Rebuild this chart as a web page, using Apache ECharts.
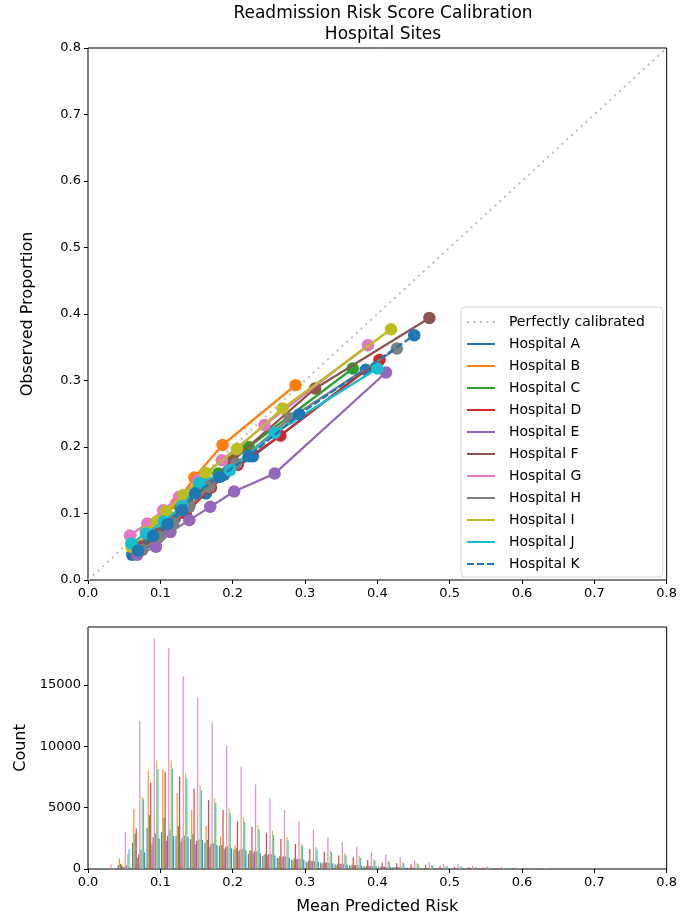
<!DOCTYPE html>
<html><head><meta charset="utf-8">
<script src="https://cdn.jsdelivr.net/npm/echarts@6/dist/echarts.min.js"></script>
<style>html,body{margin:0;padding:0;background:#fff}#c{width:680px;height:919px}</style>
</head><body><div id="c"></div><script>
// ---------- DATA ----------
const hospitals = ['Hospital A','Hospital B','Hospital C','Hospital D','Hospital E','Hospital F','Hospital G','Hospital H','Hospital I','Hospital J','Hospital K'];
const colors = ['#1f77b4','#ff7f0e','#2ca02c','#d62728','#9467bd','#8c564b','#e377c2','#7f7f7f','#bcbd22','#17becf','#1f77b4'];

// calibration points [mean predicted, observed]
const calA = [[0.061,0.038],[0.082,0.057],[0.101,0.074],[0.120,0.093],[0.140,0.112],[0.163,0.130],[0.188,0.158],[0.228,0.186],[0.384,0.316]];
const calB = [[0.065,0.050],[0.085,0.072],[0.102,0.090],[0.122,0.115],[0.147,0.154],[0.186,0.203],[0.287,0.293]];
const calC = [[0.065,0.045],[0.088,0.065],[0.108,0.085],[0.128,0.108],[0.152,0.135],[0.180,0.160],[0.222,0.200],[0.366,0.318]];
const calD = [[0.066,0.042],[0.090,0.060],[0.112,0.078],[0.135,0.100],[0.170,0.139],[0.207,0.173],[0.266,0.217],[0.403,0.331]];
const calE = [[0.068,0.038],[0.094,0.050],[0.114,0.072],[0.140,0.090],[0.169,0.110],[0.202,0.133],[0.258,0.160],[0.412,0.312]];
const calF = [[0.072,0.050],[0.095,0.070],[0.115,0.090],[0.138,0.115],[0.165,0.145],[0.200,0.180],[0.314,0.288],[0.472,0.394]];
const calG = [[0.058,0.067],[0.082,0.085],[0.104,0.105],[0.126,0.125],[0.152,0.150],[0.185,0.180],[0.244,0.233],[0.387,0.353]];
const calH = [[0.075,0.045],[0.098,0.065],[0.118,0.085],[0.140,0.110],[0.168,0.140],[0.205,0.175],[0.279,0.243],[0.427,0.348]];
const calI = [[0.060,0.050],[0.080,0.072],[0.095,0.088],[0.108,0.103],[0.132,0.128],[0.163,0.161],[0.206,0.197],[0.269,0.258],[0.419,0.377]];
const calJ = [[0.060,0.055],[0.080,0.070],[0.105,0.088],[0.130,0.111],[0.154,0.146],[0.196,0.165],[0.258,0.221],[0.400,0.318]];
const calK = [[0.069,0.044],[0.090,0.066],[0.110,0.084],[0.130,0.105],[0.148,0.130],[0.182,0.155],[0.222,0.186],[0.292,0.249],[0.451,0.368]];
const diagonal = [[0,0],[0.8,0.8]];

// histogram bin centres and counts per hospital
const bins = [0.01,0.03,0.05,0.07,0.09,0.11,0.13,0.15,0.17,0.19,0.21,0.23,0.25,0.27,0.29,0.31,0.33,0.35,0.37,0.39,0.41,0.43,0.45,0.47,0.49,0.51,0.53,0.55,0.57,0.59,0.61,0.63,0.65,0.67,0.69];
const countsA = [20,80,330,2150,3370,3000,2690,2420,2150,1870,1600,1250,1080,900,750,620,500,390,310,240,190,145,110,80,60,45,32,22,15,10,7,4,2,1,0];
const countsB = [0,60,870,4890,8040,8150,6170,4810,3500,2690,1960,1500,1150,900,690,520,400,300,230,170,130,100,75,55,40,30,20,15,10,6,4,2,1,0,0];
const countsC = [10,90,420,2900,4400,4200,3500,2850,2360,1960,1690,1500,1250,1050,860,700,560,440,350,270,210,160,120,90,65,48,35,25,17,11,7,4,2,1,0];
const countsD = [0,30,350,3300,7060,7930,7520,6570,5620,4810,3910,3450,2950,2450,2040,1630,1410,1110,950,730,540,470,380,330,240,200,160,120,90,70,50,35,25,15,8];
const countsE = [0,40,200,900,2000,2300,2200,2000,1800,1600,1450,1300,1120,960,800,660,530,420,340,270,210,165,125,95,70,52,38,27,19,13,8,5,3,1,0];
const countsF = [0,30,150,1200,2600,2700,2500,2300,2050,1800,1600,1450,1230,1030,840,680,540,420,330,255,195,150,110,82,60,44,32,22,15,10,6,4,2,1,0];
const countsG = [0,380,3000,12100,18800,18000,15700,14000,11950,10080,8370,6900,5750,4810,3910,3200,2580,2230,1820,1390,1210,950,730,560,420,400,250,230,180,150,110,80,60,40,25];
const countsH = [0,50,300,1550,2900,3200,2700,2400,2100,1850,1650,1450,1220,1010,820,660,520,400,310,240,185,140,105,78,57,42,30,21,14,9,6,4,2,1,0];
const countsI = [0,60,1220,5920,8850,8860,7800,6850,5760,4940,4260,3600,3120,2630,2090,1790,1520,1280,1060,790,710,540,460,330,270,220,170,130,100,80,60,45,30,20,10];
const countsJ = [0,50,1630,5700,8150,8180,7390,6440,5400,4540,3860,3230,2770,2350,1900,1600,1350,1120,920,700,600,470,390,290,230,180,140,110,85,65,50,35,25,15,8];
const countsK = [0,40,150,1360,2470,2700,2600,2360,1960,1690,1500,1300,1100,920,750,600,470,360,280,215,165,125,95,70,50,37,27,19,13,8,5,3,2,1,0];

const countTicks = [0,5000,10000,15000];

// ---------- CHART ----------
const cal = [calA,calB,calC,calD,calE,calF,calG,calH,calI,calJ,calK];
const counts = [countsA,countsB,countsC,countsD,countsE,countsF,countsG,countsH,countsI,countsJ,countsK];
const FONT = 'DejaVu Sans';
const chart = echarts.init(document.getElementById('c'), null, {renderer:'canvas'});

function valAxis(grid, opts) {
  return Object.assign({
    gridIndex: grid, type: 'value',
    axisLine: {show: false},
    axisTick: {show: true, inside: false, length: 4, lineStyle: {color: '#000', width: 1}},
    splitLine: {show: false},
    nameTextStyle: {color: '#000', fontSize: 16, fontFamily: FONT}
  }, opts);
}
const lbl = (extra) => Object.assign({color: '#000', fontSize: 13, fontFamily: FONT, margin: 7}, extra);

const series = [{
  name: 'Perfectly calibrated', type: 'line', xAxisIndex: 0, yAxisIndex: 0,
  data: diagonal, symbol: 'none', silent: true, z: 1,
  lineStyle: {color: '#bdbdbd', width: 2, type: [2, 4.5]}, itemStyle: {color: '#bdbdbd'}
}];
hospitals.forEach((h, i) => {
  series.push({
    name: h, type: 'line', xAxisIndex: 0, yAxisIndex: 0, data: cal[i],
    symbol: 'circle', symbolSize: 12.5, z: 2 + i,
    lineStyle: {color: colors[i], width: 2.3, type: i === 10 ? [7, 3] : 'solid'},
    itemStyle: {color: colors[i]}
  });
});
hospitals.forEach((h, i) => {
  series.push({
    name: 'hist ' + h, type: 'bar', xAxisIndex: 1, yAxisIndex: 1,
    data: bins.map((b, j) => [b, counts[i][j]]),
    barWidth: 1.2, barGap: '0%', silent: true,
    itemStyle: {color: colors[i], opacity: 0.85}
  });
});

chart.setOption({
  animation: false,
  backgroundColor: '#fff',
  title: {
    text: 'Readmission Risk Score Calibration\nHospital Sites',
    left: 378, top: -2, textAlign: 'center',
    textStyle: {fontFamily: FONT, fontSize: 17, fontWeight: 'normal', color: '#000', lineHeight: 21}
  },
  legend: {
    data: ['Perfectly calibrated'].concat(hospitals),
    orient: 'vertical', left: 461, top: 307,
    itemWidth: 28, itemHeight: 4, itemGap: 6,
    padding: [7, 18, 5, 5],
    borderColor: '#d6d6d6', borderWidth: 1, borderRadius: 4,
    backgroundColor: 'rgba(255,255,255,0.85)',
    selectedMode: false,
    itemStyle: {opacity: 0},
    formatter: name => '  ' + name,
    textStyle: {fontFamily: FONT, fontSize: 14, lineHeight: 16, color: '#000'}
  },
  grid: [
    {left: 88, top: 48, width: 580, height: 532, show: true, borderColor: '#000', borderWidth: 1, backgroundColor: 'transparent'},
    {left: 88, top: 627, width: 580, height: 242, show: true, borderColor: '#000', borderWidth: 1, backgroundColor: 'transparent'}
  ],
  xAxis: [
    valAxis(0, {min: 0, max: 0.8, interval: 0.1, axisLabel: lbl({formatter: v => v.toFixed(1)})}),
    valAxis(1, {min: 0, max: 0.8, interval: 0.1, name: 'Mean Predicted Risk', nameLocation: 'middle', nameGap: 30,
      axisLabel: lbl({formatter: v => v.toFixed(1)})})
  ],
  yAxis: [
    valAxis(0, {min: 0, max: 0.8, interval: 0.1, name: 'Observed Proportion', nameLocation: 'middle', nameGap: 52,
      axisLabel: lbl({formatter: v => v.toFixed(1)})}),
    valAxis(1, {min: 0, max: 19740, name: 'Count', nameLocation: 'middle', nameGap: 52,
      axisTick: {show: true, length: 4, lineStyle: {color: '#000'}, customValues: countTicks},
      axisLabel: lbl({customValues: countTicks, formatter: v => String(v)})})
  ],
  series: series
});
</script></body></html>
